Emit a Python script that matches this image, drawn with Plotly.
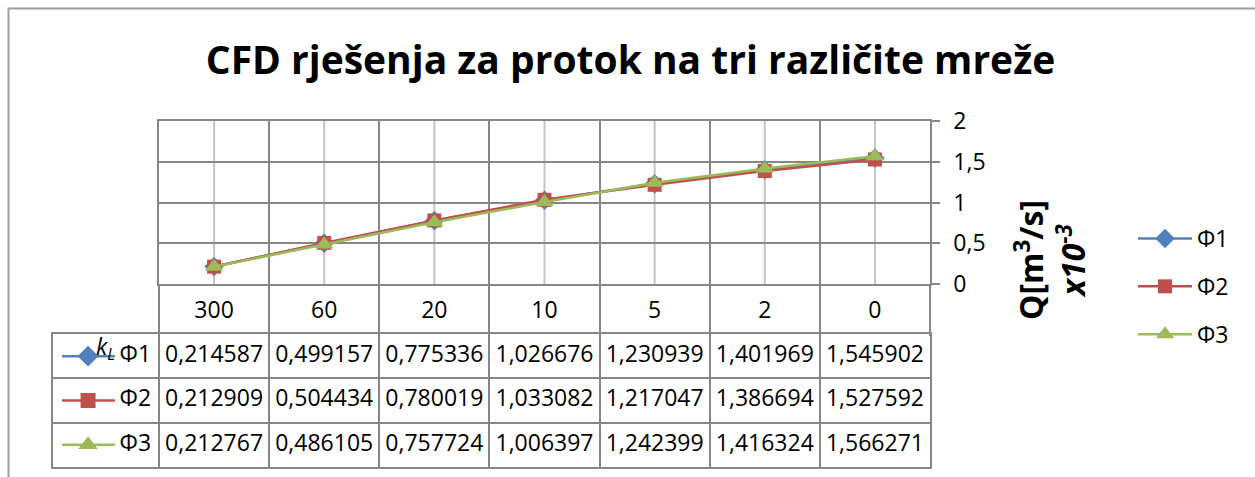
import plotly.graph_objects as go

# Category values of k_L and the flow rate Q (x10^-3 m^3/s) for the three meshes
categories = ["300", "60", "20", "10", "5", "2", "0"]
series_names = ["Φ1", "Φ2", "Φ3"]
phi1 = [0.214587, 0.499157, 0.775336, 1.026676, 1.230939, 1.401969, 1.545902]
phi2 = [0.212909, 0.504434, 0.780019, 1.033082, 1.217047, 1.386694, 1.527592]
phi3 = [0.212767, 0.486105, 0.757724, 1.006397, 1.242399, 1.416324, 1.566271]
y_ticks = [0, 0.5, 1, 1.5, 2]

series = [phi1, phi2, phi3]
colors = ["#4F81BD", "#C0504D", "#9BBB59"]
symbols = ["diamond", "square", "triangle-up"]
msizes = [15, 14, 16]

W, H = 1255, 477
FONT = "Open Sans"
GRID = "#878787"
LIGHT = "#c4c4c4"


def px_x(p):
    return p / W


def px_y(p):
    return 1 - p / H


fig = go.Figure()

# Line series on the main chart
for name, vals, c, s, ms in zip(series_names, series, colors, symbols, msizes):
    fig.add_trace(go.Scatter(
        x=categories, y=vals, name=name, mode="lines+markers",
        line=dict(color=c, width=2.5),
        marker=dict(symbol=s, size=ms, color=c),
        legendgroup=name, xaxis="x", yaxis="y", cliponaxis=False,
    ))

# Data table below the chart (rows 1..3, columns follow the category index)
idx = list(range(len(categories)))
for r, (name, vals, c, s, ms) in enumerate(zip(series_names, series, colors, symbols, msizes), start=1):
    fig.add_trace(go.Scatter(
        x=idx, y=[r] * len(idx), mode="text",
        text=[f"{v:.6f}".replace(".", ",") for v in vals],
        textfont=dict(family=FONT, size=23, color="#000"),
        xaxis="x2", yaxis="y2", showlegend=False, hoverinfo="skip",
    ))
    # legend key in the first column of the table
    fig.add_trace(go.Scatter(
        x=[-1.38, -0.90], y=[r, r], mode="lines",
        line=dict(color=c, width=2.5),
        xaxis="x2", yaxis="y2", showlegend=False, hoverinfo="skip",
    ))
    fig.add_trace(go.Scatter(
        x=[-1.144], y=[r], mode="markers",
        marker=dict(symbol=s, size=ms + 1, color=c),
        xaxis="x2", yaxis="y2", showlegend=False, hoverinfo="skip",
    ))
    fig.add_trace(go.Scatter(
        x=[-0.715], y=[r], mode="text", text=[name],
        textfont=dict(family=FONT, size=23, color="#000"),
        xaxis="x2", yaxis="y2", showlegend=False, hoverinfo="skip",
    ))

# Light lines through the category centres of the plot area
# (category axis positions given by index so numeric-looking names are not misread)
shapes = []
for i in idx:
    shapes.append(dict(type="line", xref="x", yref="y", x0=i, x1=i,
                       y0=y_ticks[0], y1=y_ticks[-1], layer="below",
                       line=dict(color=LIGHT, width=2)))
# Chart frame
shapes.append(dict(type="rect", xref="paper", yref="paper",
                   x0=px_x(8.5), x1=1.02, y0=-0.02, y1=px_y(8.5),
                   line=dict(color="#a0a0a0", width=2), layer="above"))

plot_l, plot_r, plot_t, plot_b = 159, 930, 121, 284
tab_l, tab_t, tab_b = 53, 334, 467
unit = (plot_r - plot_l) / len(categories)

fig.update_layout(
    width=W, height=H, autosize=False,
    margin=dict(l=0, r=0, t=0, b=0, pad=0, autoexpand=False),
    paper_bgcolor="white", plot_bgcolor="rgba(0,0,0,0)",
    separators=", ",
    font=dict(family=FONT, size=23, color="#000"),
    title=dict(text="<b>CFD rješenja za protok na tri različite mreže</b>",
               font=dict(family=FONT, size=39, color="#000"),
               x=0.5024, xanchor="center", xref="paper",
               y=px_y(60), yanchor="middle", yref="container", automargin=False),
    xaxis=dict(
        type="category", categoryorder="array", categoryarray=categories,
        domain=[px_x(plot_l), px_x(plot_r)], anchor="y",
        range=[-0.5, len(categories) - 0.5],
        tickson="boundaries", ticks="outside", ticklen=tab_t - plot_b,
        tickcolor=GRID, tickwidth=1.5,
        showgrid=True, gridcolor=GRID, gridwidth=1.5,
        showline=True, mirror=True, linecolor=GRID, linewidth=1.5,
        tickfont=dict(family=FONT, size=23), ticklabelstandoff=5,
        zeroline=False, automargin=False,
    ),
    yaxis=dict(
        domain=[px_y(plot_b), px_y(plot_t)], anchor="x", side="right",
        range=[y_ticks[0], y_ticks[-1]], tickvals=y_ticks,
        ticks="outside", ticklen=8, tickcolor=GRID, tickwidth=1.5,
        showgrid=True, gridcolor=GRID, gridwidth=1.5,
        showline=True, mirror=True, linecolor=GRID, linewidth=1.5,
        tickfont=dict(family=FONT, size=23), ticklabelstandoff=9,
        zeroline=False, automargin=False,
    ),
    xaxis2=dict(
        domain=[px_x(tab_l), px_x(plot_r)], anchor="y2",
        range=[-0.5 - (plot_l - tab_l) / unit, len(categories) - 0.5],
        tickvals=[i - 0.5 for i in idx], showticklabels=False, ticks="",
        showgrid=True, gridcolor=GRID, gridwidth=1.5,
        showline=True, mirror=True, linecolor=GRID, linewidth=1.5,
        zeroline=False, automargin=False,
    ),
    yaxis2=dict(
        domain=[px_y(tab_b), px_y(tab_t)], anchor="x2",
        range=[3.5, 0.5], tickvals=[1.5, 2.5], showticklabels=False, ticks="",
        showgrid=True, gridcolor=GRID, gridwidth=1.5,
        showline=True, mirror=True, linecolor=GRID, linewidth=1.5,
        zeroline=False, automargin=False,
    ),
    legend=dict(
        x=px_x(1133), xanchor="left", y=px_y(217), yanchor="top",
        font=dict(family=FONT, size=23), tracegroupgap=15, itemwidth=54,
        bgcolor="rgba(0,0,0,0)",
    ),
    shapes=shapes,
    annotations=[
        dict(text="<b>Q[m<sup>3</sup>/s]<br><i>x10<sup>-3</sup></i></b>",
             xref="paper", yref="paper", x=px_x(1050), y=px_y(260),
             xanchor="center", yanchor="middle", textangle=-90,
             showarrow=False, font=dict(family=FONT, size=32, color="#000")),
        dict(text="<i>k<sub>L</sub></i>", xref="paper", yref="paper",
             x=px_x(105), y=px_y(347), xanchor="center", yanchor="middle",
             showarrow=False, font=dict(family=FONT, size=23, color="#000")),
    ],
)

fig.write_html("out.html")
